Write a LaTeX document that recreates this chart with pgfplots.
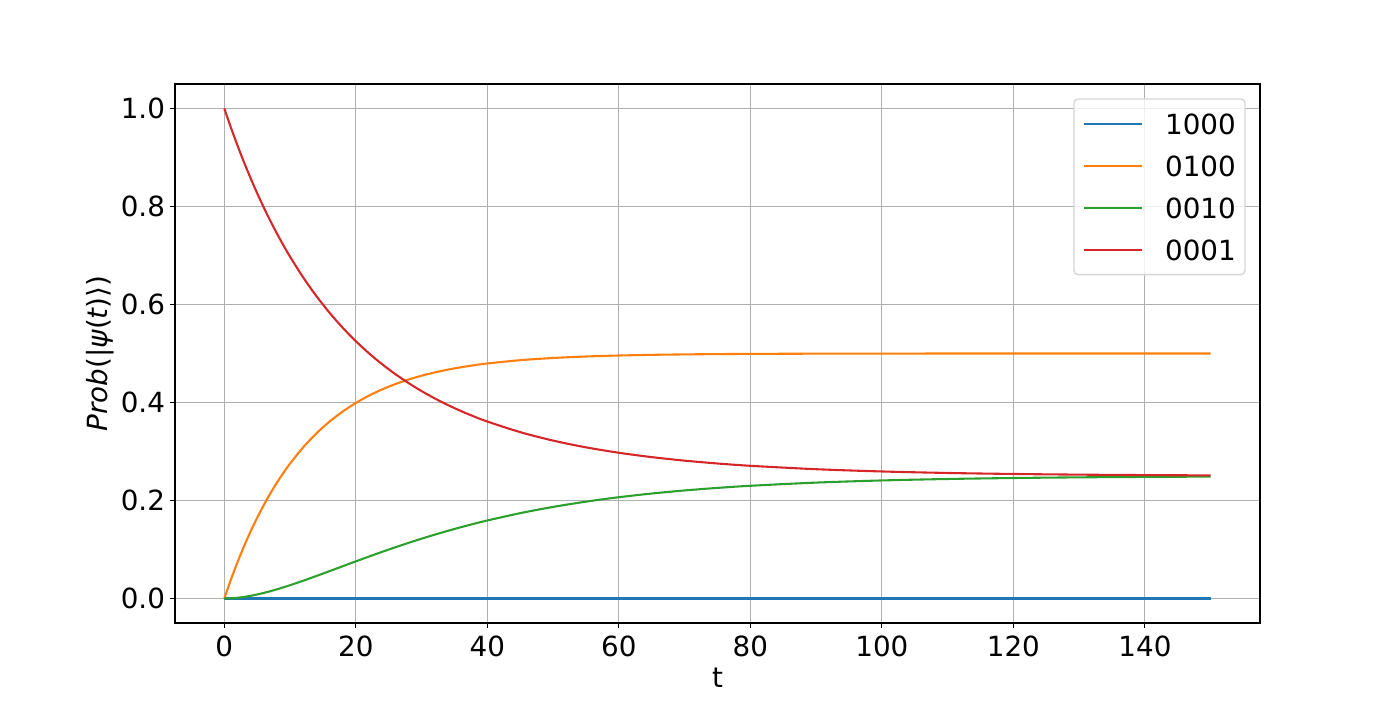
\documentclass[border=0pt]{standalone}
\usepackage{fontspec}
\setmainfont{DejaVu Sans}
\usepackage{pgfplots}
\usepackage{pgfplotstable}
\pgfplotsset{compat=1.18}
\definecolor{c1}{HTML}{1F77B4}
\definecolor{c2}{HTML}{FF7F0E}
\definecolor{c3}{HTML}{2CA02C}
\definecolor{c4}{HTML}{D62728}
\definecolor{gridc}{HTML}{B0B0B0}
\definecolor{legc}{HTML}{D6D6D6}
\newcommand{\fs}{\fontsize{20}{24}\selectfont}
\pgfplotstableread{
t p1000 p0100 p0010 p0001
0 0 0 0 1
1 0 0.03844 0.00038 0.96117
2 0 0.07392 0.00148 0.92460
3 0 0.10668 0.00320 0.89012
4 0 0.13692 0.00547 0.85761
5 0 0.16484 0.00822 0.82694
6 0 0.19061 0.01138 0.79801
7 0 0.21440 0.01491 0.77069
8 0 0.23635 0.01875 0.74490
9 0 0.25662 0.02285 0.72053
10 0 0.27534 0.02717 0.69749
12 0 0.30856 0.03633 0.65511
14 0 0.33686 0.04597 0.61718
16 0 0.36099 0.05586 0.58315
18 0 0.38153 0.06586 0.55261
20 0 0.39905 0.07581 0.52514
22 0 0.41398 0.08562 0.50040
24 0 0.42669 0.09521 0.47810
26 0 0.43753 0.10451 0.45796
28 0 0.44677 0.11348 0.43976
30 0 0.45464 0.12208 0.42328
32 0 0.46134 0.13031 0.40835
34 0 0.46706 0.13814 0.39480
36 0 0.47193 0.14557 0.38250
38 0 0.47609 0.15260 0.37131
40 0 0.47962 0.15924 0.36114
45 0 0.48634 0.17418 0.33948
50 0 0.49084 0.18691 0.32225
55 0 0.49386 0.19767 0.30847
60 0 0.49588 0.20670 0.29742
65 0 0.49724 0.21424 0.28852
70 0 0.49815 0.22052 0.28133
75 0 0.49876 0.22573 0.27552
80 0 0.49917 0.23004 0.27080
90 0 0.49963 0.23653 0.26385
100 0 0.49983 0.24092 0.25925
110 0 0.49992 0.24390 0.25618
120 0 0.49997 0.24590 0.25413
130 0 0.49998 0.24725 0.25277
140 0 0.49999 0.24815 0.25185
150 0 0.50000 0.24876 0.25124
}\probdata
\begin{document}
\begin{tikzpicture}
\path[use as bounding box] (-126pt,-55.44pt) rectangle (882pt,448.56pt);
\begin{axis}[
  at={(0pt,0pt)}, anchor=south west,
  scale only axis, width=781.2pt, height=388.1pt,
  xmin=-7.5, xmax=157.5, ymin=-0.05, ymax=1.05,
  xtick={0,20,40,60,80,100,120,140},
  ytick={0,0.2,0.4,0.6,0.8,1.0},
  /pgf/number format/assume math mode=true,
  yticklabel={\pgfmathprintnumber[fixed,fixed zerofill,precision=1]{\tick}},
  xticklabel={\pgfmathprintnumber[fixed,precision=0]{\tick}},
  tick label style={font=\fs},
  yticklabel style={anchor=east, inner sep=0pt, xshift=-3.5pt},
  xticklabel style={anchor=north, inner sep=0pt, yshift=-5.5pt},
  tick pos=left, tick align=outside,
  major tick length=3.5pt,
  every tick/.style={black, line width=0.8pt},
  axis line style={black, line width=0.8pt},
  grid=major,
  major grid style={gridc, line width=0.8pt},
  xlabel={t},
  ylabel={{\itshape Prob}(|{\itshape ψ}({\itshape t})⟩)},
  label style={font=\fs},
  xlabel style={at={(axis description cs:0.5,-0.1201)}, anchor=base, inner sep=0pt},
  ylabel style={at={(axis description cs:-0.06208,0.5)}, anchor=base, inner sep=0pt},
  legend style={at={(1,1)}, anchor=north east, xshift=-10.3pt, yshift=-10.3pt,
    draw=legc, line width=1pt, rounded corners=3pt,
    fill=white, fill opacity=0.8, text opacity=1, draw opacity=1,
    inner xsep=6.6pt, inner ysep=6.65pt,
    font=\fs, row sep=7.6pt, column sep=0pt,
    nodes={inner sep=0pt, text depth=0pt},
    cells={anchor=west}},
  legend image code/.code={
    \path[draw=none, fill=none] (0pt,-11.3pt) -- (58.3pt,11.3pt);
    \draw[line width=1.5pt, rounded corners=0pt] (0pt,0pt) -- (41.5pt,0pt);},
]
\addplot[c1, line width=1.5pt] table[x=t, y=p1000] {\probdata};
\addlegendentry{1000}
\addplot[c2, line width=1.5pt, smooth] table[x=t, y=p0100] {\probdata};
\addlegendentry{0100}
\addplot[c3, line width=1.5pt, smooth] table[x=t, y=p0010] {\probdata};
\addlegendentry{0010}
\addplot[c4, line width=1.5pt, smooth] table[x=t, y=p0001] {\probdata};
\addlegendentry{0001}
\end{axis}
\end{tikzpicture}
\end{document}
